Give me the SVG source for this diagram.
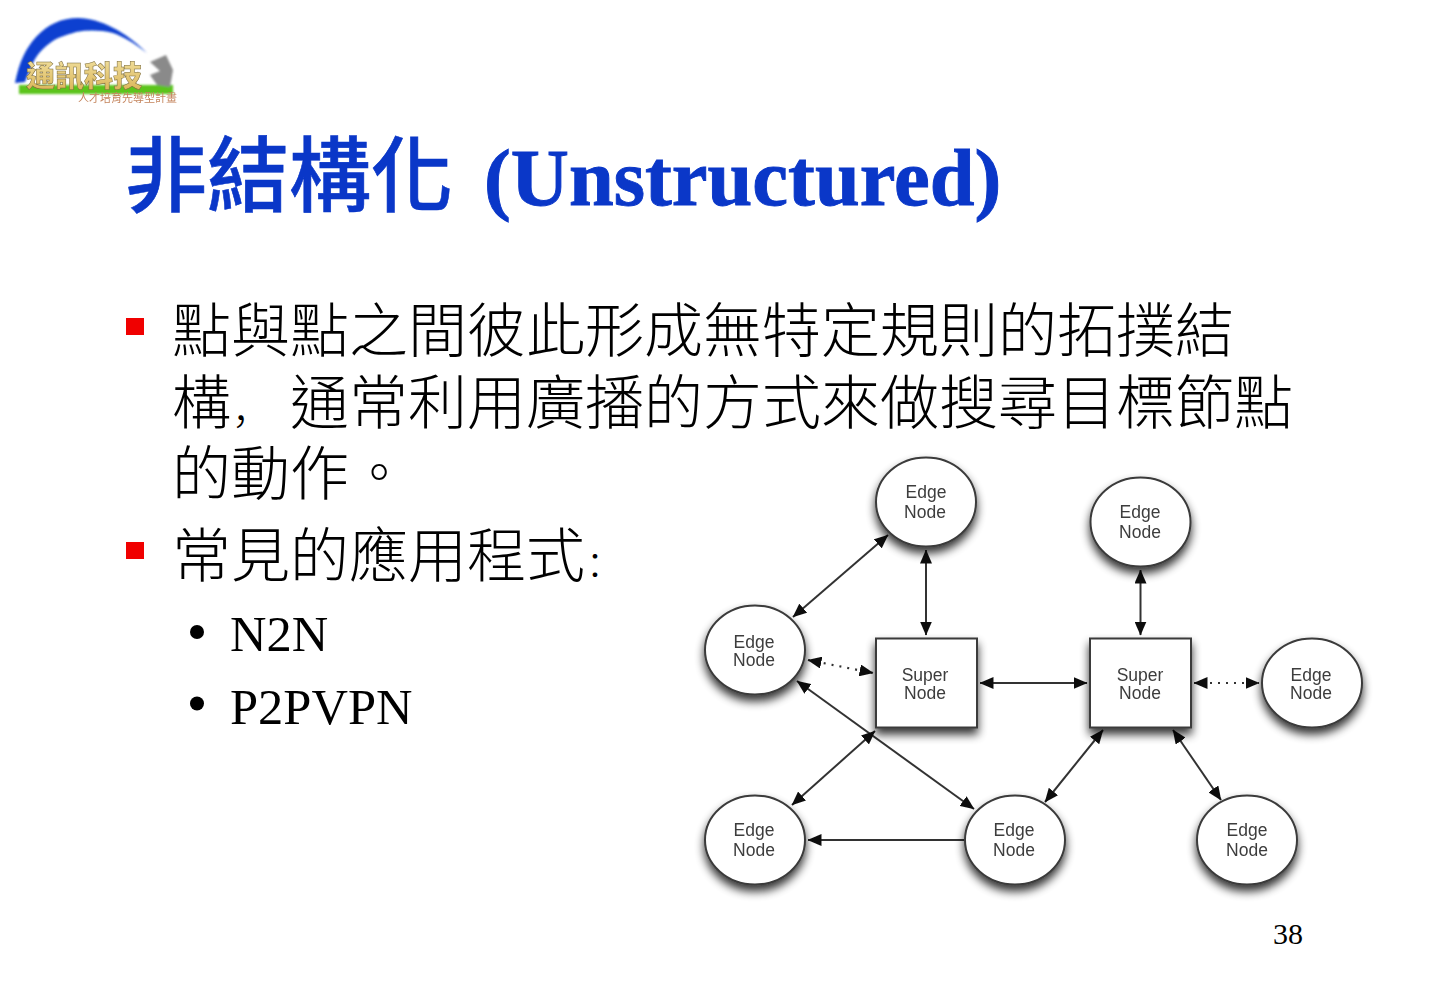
<svg xmlns="http://www.w3.org/2000/svg" width="1440" height="997" viewBox="0 0 1440 997">
<style>
.title{font-family:"Noto Sans CJK TC",sans-serif;font-size:82px;font-weight:500;fill:#0a37c8;stroke:#0a37c8;stroke-width:.6}
.latt{font-family:"Liberation Serif",serif;font-size:80.500px;font-weight:700;fill:#0a37c8;stroke:#0a37c8;stroke-width:.9}
.body{font-family:"Noto Sans CJK TC",sans-serif;font-size:59px;font-weight:300;fill:#000}
.sc{font-family:"Noto Sans CJK SC",sans-serif}
.sub{font-family:"Liberation Serif",serif;font-size:50.500px;fill:#000}
.nt{font-family:"Liberation Sans",sans-serif;font-size:17.500px;fill:#3c3c3c;text-anchor:middle}
.shape{fill:#fff;stroke:#3a3a3a;stroke-width:2;filter:url(#shadow)}
.c{fill:none;stroke:#333;stroke-width:2;marker-start:url(#ah);marker-end:url(#ah)}
.s{marker-start:none}
.d{stroke-dasharray:2 6;stroke-width:2.200}
</style>
<defs>
<filter id="shadow" x="-30%" y="-30%" width="160%" height="170%"><feGaussianBlur in="SourceAlpha" stdDeviation="5"/><feOffset dy="6"/><feComponentTransfer><feFuncA type="linear" slope=".8"/></feComponentTransfer><feMerge><feMergeNode/><feMergeNode in="SourceGraphic"/></feMerge></filter>
<filter id="soft" x="-30%" y="-30%" width="160%" height="170%"><feGaussianBlur stdDeviation=".5"/></filter>
<filter id="soft2" x="-10%" y="-10%" width="120%" height="120%"><feGaussianBlur stdDeviation="1.100"/></filter>
<linearGradient id="gold" x1="0" y1="0" x2="0" y2="1"><stop offset="0" stop-color="#f4e6a8"/><stop offset="1" stop-color="#d8b050"/></linearGradient>
<marker id="ah" viewBox="0 0 14 12" refX="13.500" refY="6" markerWidth="14" markerHeight="12" markerUnits="userSpaceOnUse" orient="auto-start-reverse"><path d="M0 0L14 6L0 12z" fill="#111"/></marker>
</defs>
<rect width="1440" height="997" fill="#fff"/>
<g id="logo">
<g filter="url(#soft2)">
<path d="M15 83C19 62 26 48 36 37C48 24 62 18 78 18C100 18 126 32 147 53C134 43 124 37 113 33C100 30 88 30 76 32C66 35 56 38 50 43C41 50 36 56 33 63C30 70 27 76 25 82z" fill="#0b3fd0"/>
<rect x="19" y="85" width="154" height="9" fill="#5cc41e"/>
<path d="M150 62L166 55L173 70L170 87L157 85L150 75L160 71z" fill="#8a8a8a"/>
</g>
<text x="26" y="87" font-family="Noto Sans CJK TC,sans-serif" font-size="29" font-weight="900" fill="url(#gold)" stroke="#7a6a3a" stroke-width=".5" filter="url(#soft)">通訊科技</text>
<text x="78" y="102" font-family="Noto Sans CJK TC,sans-serif" font-size="11" fill="#c4845c" filter="url(#soft)">人才培育先導型計畫</text>
</g>
<g id="heading">
<text class="title" x="125" y="205">非結構化</text>
<text class="latt" x="484" y="205">(Unstructured)</text>
</g>
<g id="bullets">
<rect x="126" y="318" width="18" height="17" fill="#f00000"/>
<text class="body" x="172" y="352">點與點之間彼此形成無特定規則的拓撲結</text>
<text class="body" x="172" y="424">構<tspan class="sc" font-size="40" x="232">，</tspan><tspan x="290">通常利用廣播的方式來做搜尋目標節點</tspan></text>
<text class="body" x="172" y="495">的動作<tspan font-size="52" x="353" y="492">。</tspan></text>
<rect x="126" y="542" width="18" height="17" fill="#f00000"/>
<text class="body" x="172" y="577">常見的應用程式<tspan class="sc" font-size="36" x="586">：</tspan></text>
<circle cx="197" cy="632" r="7" fill="#000"/>
<text class="sub" x="230" y="651">N2N</text>
<circle cx="197" cy="703.500" r="7" fill="#000"/>
<text class="sub" x="230" y="723.500" font-size="51">P2PVPN</text>
</g>
<g id="connectors" filter="url(#soft)">
<line class="c" x1="888" y1="535" x2="793" y2="617"/>
<line class="c" x1="926" y1="550" x2="926" y2="635"/>
<line class="c d" x1="808" y1="660" x2="873" y2="673"/>
<line class="c" x1="980" y1="683" x2="1087" y2="683"/>
<line class="c" x1="797" y1="681" x2="974" y2="809"/>
<line class="c" x1="875" y1="731" x2="792" y2="805"/>
<line class="c s" x1="964" y1="840" x2="808" y2="840"/>
<line class="c" x1="1140.500" y1="570" x2="1140.500" y2="635"/>
<line class="c d" x1="1194" y1="683" x2="1259" y2="683"/>
<line class="c" x1="1103" y1="730" x2="1045" y2="802"/>
<line class="c" x1="1173" y1="730" x2="1221" y2="800"/>
</g>
<g id="edge-top" filter="url(#soft)"><ellipse class="shape" cx="926" cy="502" rx="50" ry="44.500"/><text class="nt" x="926" y="497.500">Edge</text><text class="nt" x="925" y="517.500">Node</text></g>
<g id="edge-left" filter="url(#soft)"><ellipse class="shape" cx="755" cy="650" rx="50" ry="44.500"/><text class="nt" x="754" y="647.500">Edge</text><text class="nt" x="754" y="665.500">Node</text></g>
<g id="edge-top-right" filter="url(#soft)"><ellipse class="shape" cx="1140.500" cy="522" rx="50" ry="44.500"/><text class="nt" x="1140" y="517.500">Edge</text><text class="nt" x="1140" y="537.500">Node</text></g>
<g id="edge-right" filter="url(#soft)"><ellipse class="shape" cx="1312" cy="683" rx="50" ry="44.500"/><text class="nt" x="1311" y="680.500">Edge</text><text class="nt" x="1311" y="698.500">Node</text></g>
<g id="edge-bottom-left" filter="url(#soft)"><ellipse class="shape" cx="755" cy="840" rx="50" ry="44.500"/><text class="nt" x="754" y="835.500">Edge</text><text class="nt" x="754" y="855.500">Node</text></g>
<g id="edge-bottom-mid" filter="url(#soft)"><ellipse class="shape" cx="1015" cy="840" rx="50" ry="44.500"/><text class="nt" x="1014" y="835.500">Edge</text><text class="nt" x="1014" y="855.500">Node</text></g>
<g id="edge-bottom-right" filter="url(#soft)"><ellipse class="shape" cx="1247" cy="840" rx="50" ry="44.500"/><text class="nt" x="1247" y="835.500">Edge</text><text class="nt" x="1247" y="855.500">Node</text></g>
<g id="super-1" filter="url(#soft)"><rect class="shape" x="876" y="638.500" width="101" height="89"/><text class="nt" x="925" y="680.500">Super</text><text class="nt" x="925" y="698.500">Node</text></g>
<g id="super-2" filter="url(#soft)"><rect class="shape" x="1090" y="638.500" width="101" height="89"/><text class="nt" x="1140" y="680.500">Super</text><text class="nt" x="1140" y="698.500">Node</text></g>
<text x="1273" y="944" font-family="Liberation Serif,serif" font-size="30" fill="#000">38</text>
</svg>
